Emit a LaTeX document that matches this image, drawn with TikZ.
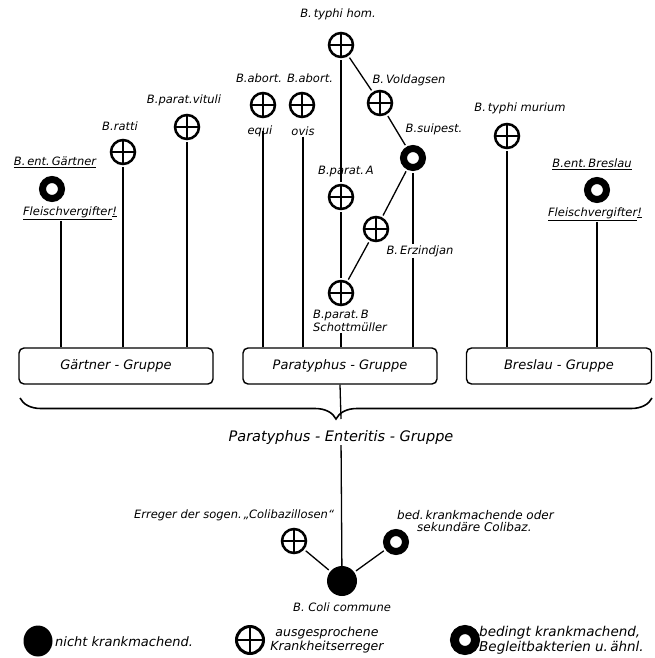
\documentclass[tikz,border=0pt]{standalone}
\usepackage{fontspec}
\setmainfont{DejaVu Sans}
\usetikzlibrary{decorations.pathreplacing, calc, shapes.geometric}

\begin{document}
\begin{tikzpicture}[x=1pt, y=-1pt, font=\itshape\fontsize{11.5}{13}\selectfont,
	krank/.style={circle, draw, line width=2.5pt, minimum size=24pt, inner sep=0pt,
		path picture={\draw[line width=2.3pt] (path picture bounding box.north) -- (path picture bounding box.south)
			(path picture bounding box.west) -- (path picture bounding box.east);}},
	bedingt/.style={circle, draw, line width=7pt, minimum size=19pt, inner sep=0pt},
	nicht/.style={circle, fill, minimum size=30pt, inner sep=0pt},
	gruppe/.style={rectangle, draw, line width=1.4pt, rounded corners=5pt, minimum height=36pt,
		font=\itshape\fontsize{13}{15}\selectfont},
	lbl/.style={inner sep=1pt},
	verb/.style={line width=1.3pt, shorten >=2pt, shorten <=2pt},
	stab/.style={line width=1.3pt}]
	\useasboundingbox (0,0) rectangle (654,658);
	% Paratyphus-Gruppe
	\node[lbl] (tht) at (338,14) {B.\,typhi hom.};
	\node[krank] (th) at (341,45) {};
	\node[lbl] (vot) at (409,80) {B.\,Voldagsen};
	\node[krank] (vo) at (380,103) {};
	\node[lbl] (eqt) at (259,78) {B.abort.};
	\node[lbl] (ovt) at (310,78) {B.abort.};
	\node[krank] (eq) at (263,105) {};
	\node[krank] (ov) at (302,105) {};
	\node[lbl] (equ) at (260,131) {equi};
	\node[lbl] (ovu) at (303,131) {ovis};
	\node[lbl] (spt) at (434,129) {B.suipest.};
	\node[bedingt] (sp) at (413,158) {};
	\node[lbl] (pat) at (346,172) {B.parat.\,A};
	\node[krank] (pa) at (341,197) {};
	\node[krank] (er) at (376,229) {};
	\node[lbl] (ert) at (420,251) {B.\,Erzindjan};
	\node[krank] (pb) at (341,293) {};
	\node[lbl, align=left] (pbt) at (350,321) {B.parat.\,B\\Schottmüller};
	% Gaertner-Gruppe
	\node[lbl] (vit) at (184,100) {B.parat.vituli};
	\node[krank] (vi) at (187,127) {};
	\node[lbl] (rat) at (120,126) {B.ratti};
	\node[krank] (ra) at (123,152) {};
	\node[lbl] (gat) at (55,162) {\underline{B.\,ent.\,Gärtner}};
	\node[bedingt] (ga) at (52,189) {};
	\node[lbl] (gaf) at (70,213) {\underline{Fleischvergifter}\underline{!}};
	% Breslau-Gruppe
	\node[lbl] (mut) at (520,108) {B.\,typhi murium};
	\node[krank] (mu) at (507,136) {};
	\node[lbl] (brt) at (592,164) {\underline{B.ent.\,Breslau}};
	\node[bedingt] (br) at (597,190) {};
	\node[lbl] (brf) at (595,214) {\underline{Fleischvergifter}\underline{!}};
	% Gruppen
	\node[gruppe, minimum width=194pt] (gg) at (116,366) {Gärtner - Gruppe};
	\node[gruppe, minimum width=194pt] (pg) at (340,366) {Paratyphus - Gruppe};
	\node[gruppe, minimum width=185pt] (bg) at (559,366) {Breslau - Gruppe};
	\coordinate (bt) at (341,419);
	\node[lbl, font=\itshape\fontsize{14.5}{16}\selectfont] (pe) at (341,437) {Paratyphus - Enteritis - Gruppe};
	% Coli
	\node[nicht] (coli) at (342,581) {};
	\node[lbl] (colit) at (342,607) {B. Coli commune};
	\node[krank] (cb) at (294,541) {};
	\node[lbl] (cbt) at (234,515) {Erreger der sogen.\,„Colibazillosen“};
	\node[bedingt] (sk) at (396,542) {};
	\node[lbl, align=left, anchor=west, font=\itshape\fontsize{12}{12.5}\selectfont] (skt) at (396,521) {bed.\,krankmachende oder\\\hspace*{20pt}sekundäre Colibaz.};
	% Verbindungen
	\draw[verb] (th) -- (vo);
	\draw[verb] (vo) -- (sp);
	\draw[verb] (sp) -- (er);
	\draw[verb] (er) -- (pb);
	\draw[verb] (th) -- (pa);
	\draw[verb] (pa) -- (pb);
	\draw[stab] (pbt.south) ++(-9,0) coordinate (pbx) -- (pbx |- pg.north);
	\draw[stab] (equ) ++(3,0) coordinate (eqx) -- (eqx |- pg.north);
	\draw[stab] (ovu) -- (ovu |- pg.north);
	\draw[stab, shorten <=2pt] (sp) -- (sp |- ert.north);
	\draw[stab] (sp |- ert.south) -- (sp |- pg.north);
	\draw[stab, shorten <=2pt] (vi) -- (vi |- gg.north);
	\draw[stab, shorten <=2pt] (ra) -- (ra |- gg.north);
	\draw[stab] (gaf.south) ++(-9,0) coordinate (gax) -- (gax |- gg.north);
	\draw[stab, shorten <=2pt] (mu) -- (mu |- bg.north);
	\draw[stab] (brf.south) ++(2,0) coordinate (brx) -- (brx |- bg.north);
	\draw[line width=1.6pt, decorate, decoration={brace, mirror, amplitude=21pt}] (20,398) -- (652,398);
	\draw[stab] (pg.south) -- (bt);
	\draw[stab] (pe) -- (coli);
	\draw[verb] (coli) -- (cb);
	\draw[verb] (coli) -- (sk);
	% Zeichenerklaerung
	\node[ellipse, fill, minimum width=29pt, minimum height=31pt, inner sep=0pt] (ln) at (38,641) {};
	\node[lbl, anchor=west, font=\itshape\fontsize{13}{14}\selectfont] (lnt) at (54,642) {nicht krankmachend.};
	\node[krank, minimum size=27pt, line width=3pt] (lk) at (250,640) {};
	\node[lbl, align=center, font=\itshape\fontsize{12.5}{14}\selectfont] (lkt) at (327,640) {ausgesprochene\\Krankheitserreger};
	\node[bedingt, minimum size=21pt, line width=9pt] (lb) at (465,640) {};
	\node[lbl, align=left, anchor=west, font=\itshape\fontsize{13.5}{15}\selectfont] (lbt) at (478,640) {bedingt krankmachend,\\Begleitbakterien u.\,ähnl.};
\end{tikzpicture}
\end{document}
